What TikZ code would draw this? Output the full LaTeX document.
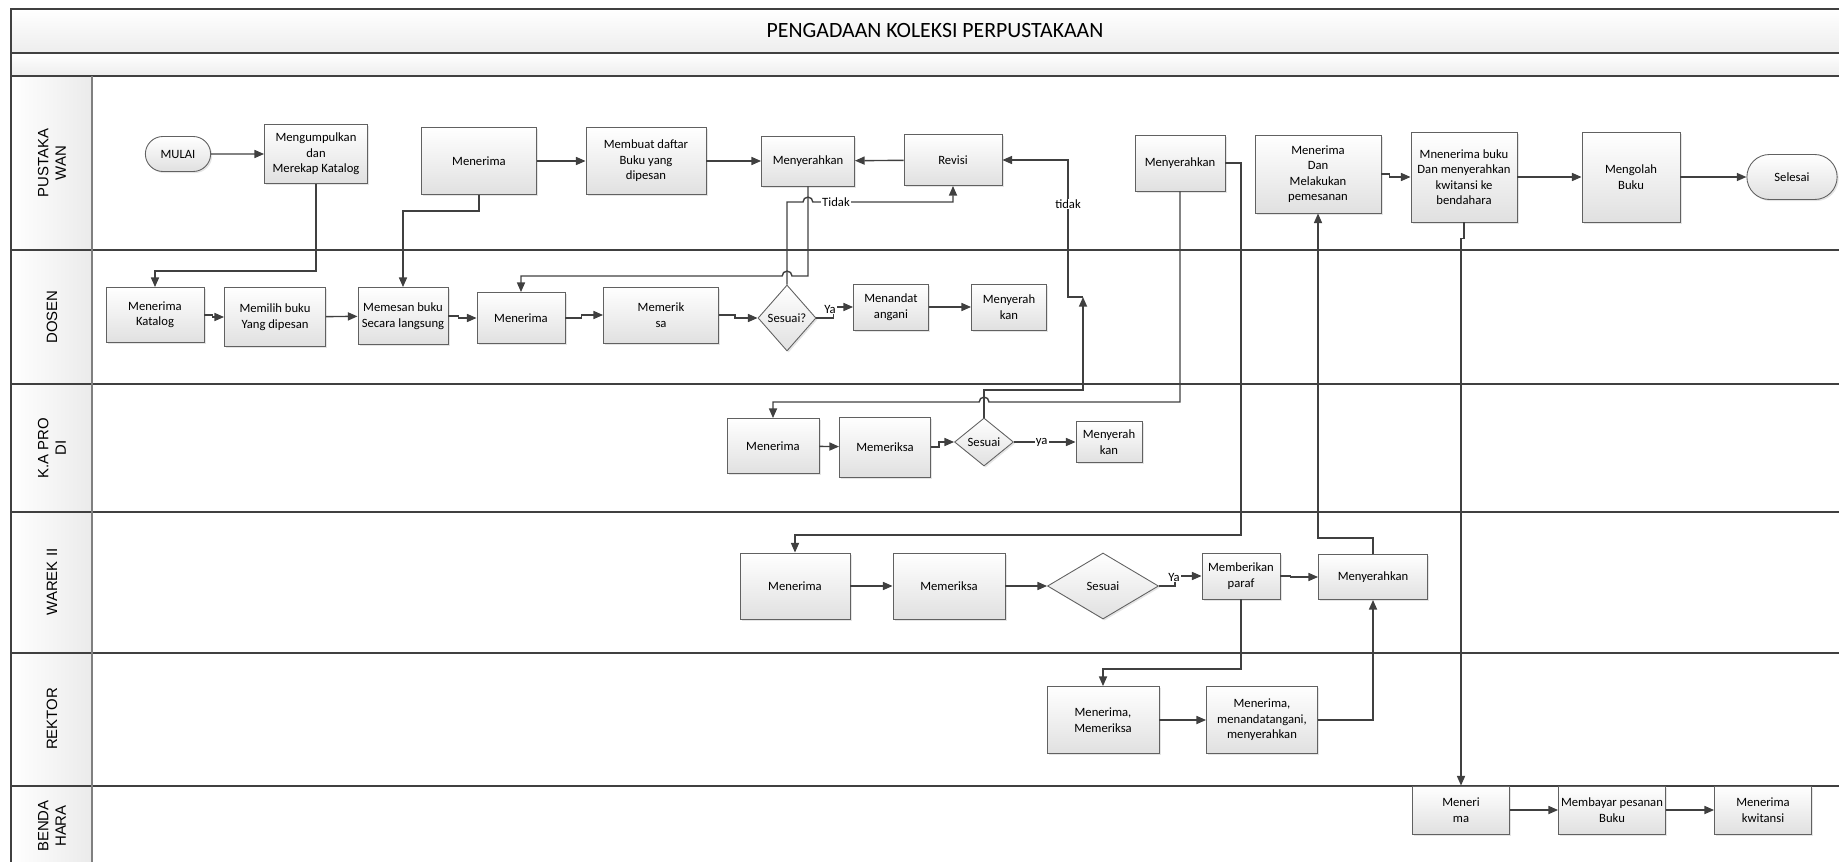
\documentclass[tikz,border=0pt]{standalone}
\usepackage{fontspec}
\setmainfont{Carlito}
\newfontfamily\lanefont{Liberation Sans}
\usetikzlibrary{arrows.meta,shapes.geometric,shapes.misc,shadows}

\begin{document}
\begin{tikzpicture}[x=0.02cm,y=-0.02cm,
  every node/.style={font=\fontsize{7.2}{8.8}\selectfont},
  box/.style 2 args={draw=black!62,line width=0.5pt,top color=white,bottom color=black!12,
    drop shadow={shadow xshift=0.9pt,shadow yshift=-0.9pt,fill=black!20},
    minimum width=#1*0.02cm,minimum height=#2*0.02cm,align=center,inner sep=0.5pt},
  dia/.style 2 args={box={#1}{#2},diamond,aspect=1,inner sep=0pt},
  term/.style 2 args={box={#1}{#2},rounded rectangle},
  lane/.style={draw=black!75,line width=1.1pt},
  ln/.style={draw=black!75,line width=0.8pt},
  ar/.style={ln,-{Triangle[length=5.5pt,width=4.6pt]}},
  lbl/.style={fill=white,inner sep=0.6pt},
  lanename/.style={rotate=90,align=center,font=\lanefont\fontsize{8.5}{10}\selectfont}]
\useasboundingbox (0,0) rectangle (1839,862);

\shade[top color=white,bottom color=black!7] (11,9) rectangle (1850,53);
\shade[top color=white,bottom color=black!7] (11,53) rectangle (1850,76);
\shade[left color=white,right color=black!8] (11,76) rectangle (92,870);
\draw[lane] (1850,9) -- (11,9) -- (11,870)
  (11,53) -- (1850,53) (11,76) -- (1850,76) (11,250) -- (1850,250) (11,384) -- (1850,384)
  (11,512) -- (1850,512) (11,653) -- (1850,653) (11,786) -- (1850,786);
\draw[draw=black!50,line width=1.1pt] (92,76) -- (92,870);

\node[font=\fontsize{12.4}{14}\selectfont] (judul) at (935,31) {PENGADAAN KOLEKSI PERPUSTAKAAN};
\node[lanename] (lp) at (52,163) {PUSTAKA\\WAN};
\node[lanename] (ld) at (52,317) {DOSEN};
\node[lanename] (lk) at (52,448) {K.A PRO\\DI};
\node[lanename] (lw) at (52,582) {WAREK II};
\node[lanename] (lr) at (52,719) {REKTOR};
\node[lanename] (lb) at (52,826) {BENDA\\HARA};

\node[term={67}{35}] (mulai) at (178,154) {MULAI};
\node[box={103}{59}] (kumpul) at (316,154) {Mengumpulkan\\dan\\Merekap Katalog};
\node[box={115}{67}] (terimaP) at (479,161) {Menerima};
\node[box={120}{67}] (daftar) at (646,161) {Membuat daftar\\Buku yang\\dipesan};
\node[box={93}{50}] (serahA) at (808,161) {Menyerahkan};
\node[box={98}{51}] (revisi) at (953,160) {Revisi};
\node[box={90}{56}] (serahB) at (1180,163) {Menyerahkan};
\node[box={126}{78}] (pesan) at (1318,174) {Menerima\\Dan\\Melakukan\\pemesanan};
\node[box={106}{90}] (kwit) at (1464,177) {Mnenerima buku\\Dan menyerahkan\\kwitansi ke\\bendahara};
\node[box={98}{90}] (olah) at (1631,177) {Mengolah\\Buku};
\node[term={92}{45}] (selesai) at (1792,177) {Selesai};

\node[box={98}{55}] (katalog) at (155,315) {Menerima\\Katalog};
\node[box={101}{59}] (pilih) at (275,317) {Memilih buku\\Yang dipesan};
\node[box={90}{57}] (memesan) at (403,316) {Memesan buku\\Secara langsung};
\node[box={88}{51}] (terimaD) at (521,318) {Menerima};
\node[box={115}{56}] (periksaD) at (661,315) {Memerik\\sa};
\node[dia={58}{66}] (sesuaiD) at (787,318) {Sesuai?};
\node[box={75}{46}] (tanda) at (891,307) {Menandat\\angani};
\node[box={75}{46}] (serahD) at (1009,307) {Menyerah\\kan};

\node[box={92}{55}] (terimaK) at (773,446) {Menerima};
\node[box={91}{60}] (periksaK) at (885,447) {Memeriksa};
\node[dia={59}{48}] (sesuaiK) at (984,442) {Sesuai};
\node[box={66}{41}] (serahK) at (1109,442) {Menyerah\\kan};

\node[box={110}{66}] (terimaW) at (795,586) {Menerima};
\node[box={112}{66}] (periksaW) at (949,586) {Memeriksa};
\node[dia={111}{66}] (sesuaiW) at (1103,586) {Sesuai};
\node[box={78}{46}] (paraf) at (1241,576) {Memberikan\\paraf};
\node[box={109}{45}] (serahW) at (1373,577) {Menyerahkan};

\node[box={112}{67}] (mm) at (1103,720) {Menerima,\\Memeriksa};
\node[box={111}{67}] (mmm) at (1262,720) {Menerima,\\menandatangani,\\menyerahkan};

\node[box={97}{48}] (terimaB) at (1461,810) {Meneri\\ma};
\node[box={107}{48}] (bayar) at (1612,810) {Membayar pesanan\\Buku};
\node[box={97}{48}] (kwitansi) at (1763,810) {Menerima\\kwitansi};

\coordinate (tk) at (1083,297);

\draw[ar] (mulai) -- (kumpul);
\draw[ar] (kumpul.south) |- (0,271 -| katalog.north) -- (katalog.north);
\draw[ar] (terimaP.south) |- (0,211 -| memesan.north) -- (memesan.north);
\draw[ar] (terimaP) -- (daftar);
\draw[ar] (daftar) -- (serahA);
\draw[ar] (revisi) -- (serahA);
\draw[ar] (sesuaiD.north) -- (787,202) -- (803,202) arc[start angle=180,end angle=0,radius=2.8pt]
  -- (953,202) -- (revisi.south);
\node[lbl] (ltidak) at (836,202) {Tidak};
\draw[ar] (serahA.south) -- (808,276) -- (792,276) arc[start angle=0,end angle=180,radius=2.8pt]
  -| (terimaD.north);
\draw[ar] (katalog.east) -- ++(8,0) |- (pilih.west);
\draw[ar] (pilih) -- (memesan);
\draw[ar] (memesan.east) -- ++(10,0) |- (terimaD.west);
\draw[ar] (terimaD.east) -- ++(16,0) |- (periksaD.west);
\draw[ar] (periksaD.east) -- ++(16,0) |- (sesuaiD.west);
\draw[ar] (sesuaiD.east) -- ++(17,0) |- (tanda.west);
\node[lbl] (lya1) at (830,309) {Ya};
\draw[ar] (tanda) -- (serahD);

\draw[ar] (sesuaiK.north) |- (0,390 -| tk) -- (tk);
\draw[ar] (tk) -| (1068,160) -- (revisi.east);
\node[lbl] (ltidak2) at (1068,204) {tidak};
\draw[ar] (serahB.south) -- (1180,402) -- (989,402) arc[start angle=0,end angle=180,radius=2.8pt]
  -| (terimaK.north);
\draw[ar] (serahB.east) -| (1241,535) -| (terimaW.north);
\draw[ar] (terimaK) -- (periksaK);
\draw[ar] (periksaK.east) -- ++(8,0) |- (sesuaiK.west);
\draw[ar] (sesuaiK) -- (serahK) node[lbl,pos=0.45] (lya2) {ya};

\draw[ar] (terimaW) -- (periksaW);
\draw[ar] (periksaW) -- (sesuaiW);
\draw[ar] (sesuaiW.east) -- ++(16,0) |- (paraf.west);
\node[lbl] (lya3) at (1174,577) {Ya};
\draw[ar] (paraf.east) -- ++(10,0) |- (serahW.west);
\draw[ar] (paraf.south) |- (0,669 -| mm.north) -- (mm.north);
\draw[ar] (serahW.north) |- (0,538 -| pesan.south) -- (pesan.south);
\draw[ar] (mm) -- (mmm);
\draw[ar] (mmm.east) -| (serahW.south);

\draw[ar] (pesan.east) -- ++(8,0) |- (kwit.west);
\draw[ar] (kwit) -- (olah);
\draw[ar] (olah) -- (selesai);
\draw[ar] (kwit.south) -- ++(0,16) -| (terimaB.north);
\draw[ar] (terimaB) -- (bayar);
\draw[ar] (bayar) -- (kwitansi);
\end{tikzpicture}
\end{document}
